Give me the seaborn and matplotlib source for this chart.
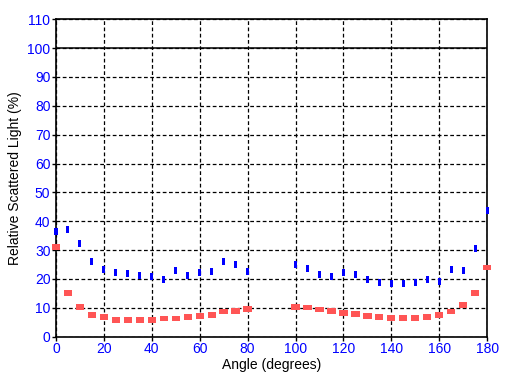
import pandas as pd
import seaborn as sns
import matplotlib
matplotlib.use("Agg")
import matplotlib.pyplot as plt
from matplotlib.ticker import MultipleLocator

# Angles (degrees) - gap between 80 and 100
angles = [0, 5, 10, 15, 20, 25, 30, 35, 40, 45, 50, 55, 60, 65, 70, 75, 80,
          100, 105, 110, 115, 120, 125, 130, 135, 140, 145, 150, 155, 160, 165, 170, 175, 180]

# blue series (upper)
blue_vals = [36.5, 37.2, 32.4, 26.1, 23.4, 22.3, 22.0, 21.3, 20.9, 19.9, 23.0, 21.3, 22.3, 22.7, 26.1, 25.0, 22.7,
             25.0, 23.6, 21.6, 20.9, 22.3, 21.6, 19.9, 18.9, 18.5, 18.5, 18.9, 19.9, 19.2, 23.4, 23.0, 30.6, 43.8]

# red series (lower)
red_vals = [31.1, 15.1, 10.3, 7.6, 6.8, 5.9, 5.9, 5.9, 5.9, 6.3, 6.3, 6.9, 7.3, 7.6, 8.7, 9.0, 9.7,
            10.4, 10.1, 9.4, 9.0, 8.3, 8.0, 7.3, 6.9, 6.6, 6.6, 6.6, 6.9, 7.6, 8.7, 10.9, 15.0, 24.0]

df = pd.DataFrame({'Angle': angles, 'Blue': blue_vals, 'Red': red_vals})

plt.rcParams['font.family'] = ['Liberation Sans', 'DejaVu Sans']
plt.rcParams['font.size'] = 10

fig = plt.figure(figsize=(5.09, 3.85), dpi=100)
ax = fig.add_axes([0.110, 0.1255, 0.847, 0.8245])

# rectangle markers: wide red, tall blue
red_marker = [(-1, -0.7), (1, -0.7), (1, 0.7), (-1, 0.7), (-1, -0.7)]
blue_marker = [(-0.43, -1), (0.43, -1), (0.43, 1), (-0.43, 1), (-0.43, -1)]

sns.scatterplot(data=df, x='Angle', y='Red', marker=red_marker, s=36,
                color='#ff5555', edgecolor='none', linewidth=0, ax=ax,
                zorder=4, clip_on=False)
sns.scatterplot(data=df, x='Angle', y='Blue', marker=blue_marker, s=26,
                color='#0000ff', edgecolor='none', linewidth=0, ax=ax,
                zorder=4, clip_on=False)

ax.set_xlim(0, 180)
ax.set_ylim(0, 110)
ax.xaxis.set_major_locator(MultipleLocator(20))
ax.yaxis.set_major_locator(MultipleLocator(10))

ax.grid(True, color='black', linestyle=(0, (3, 2)), linewidth=0.9, zorder=1)
ax.axhline(100, color='black', linewidth=1.1, zorder=2)

for sp in ax.spines.values():
    sp.set_linewidth(1.2)
    sp.set_color('black')
    sp.set_zorder(3)

ax.tick_params(direction='out', length=3, width=1, colors='black',
               labelcolor='#0000ff', labelsize=10, pad=1)

ax.set_xlabel('Angle (degrees)', fontsize=10, labelpad=1)
ax.set_ylabel('Relative Scattered Light (%)', fontsize=10, labelpad=4)

fig.savefig('out.png', dpi=100)
